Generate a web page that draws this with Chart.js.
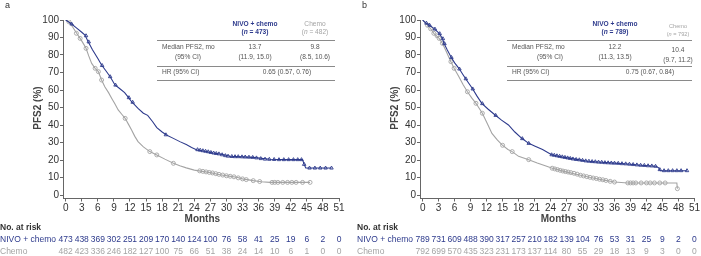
<!DOCTYPE html>
<html>
<head>
<meta charset="utf-8">
<script src="https://cdn.jsdelivr.net/npm/chart.js"></script>
<style>
  html, body { margin: 0; padding: 0; background: #fff; }
  body { width: 701px; height: 256px; position: relative; overflow: hidden; }
  canvas { position: absolute; top: 0; }
  #pa { left: 0; }
  #pb { left: 357px; }
</style>
</head>
<body>
<canvas id="pa" width="350" height="256"></canvas>
<canvas id="pb" width="344" height="256"></canvas>
<script>
// ---- data ----
const monthTicks = [0, 3, 6, 9, 12, 15, 18, 21, 24, 27, 30, 33, 36, 39, 42, 45, 48, 51]
const pctTicks = [0, 10, 20, 30, 40, 50, 60, 70, 80, 90, 100]

// panel a: KM curves (months, PFS2 %)
const aNivoT = [0, 0.5, 1.1, 2, 3, 3.6, 4.2, 5, 6, 6.7, 7.5, 8.3, 9.2, 10, 11, 11.7, 12.3, 13.5, 14.5, 15.3, 16.2, 17, 18, 18.8, 20, 21.3, 22.5, 23.5, 24.4, 26, 27.5, 28.8, 30.7, 33, 35, 38.1, 41, 44.2, 44.5, 44.8, 49.6]
const aNivoS = [100, 99, 97.7, 95.5, 93, 91.4, 87.6, 83, 78, 74.3, 71, 67.6, 62.9, 61, 58.5, 55.8, 53.3, 49.5, 46.7, 45.5, 42, 38.5, 36, 34.3, 32.5, 30.5, 28.8, 27.2, 25.9, 25, 24, 23.4, 22.1, 21.8, 21.5, 20.4, 20.2, 20.2, 17.5, 15.4, 15.4]
const aChemoT = [0, 0.6, 1.3, 2.05, 2.7, 3.3, 3.8, 4.3, 4.85, 5.5, 6.1, 6.7, 7.3, 8, 8.6, 9.2, 9.8, 10.5, 11.1, 11.7, 12.3, 12.9, 13.5, 14.5, 15.7, 17, 18.5, 20.1, 21.3, 22.5, 24, 25.5, 27, 28.8, 30.5, 31.9, 33, 35, 36.5, 38.1, 45.6]
const aChemoS = [100, 99, 96, 92.4, 89.5, 86.5, 83.8, 79.5, 75.2, 72.4, 70.5, 65.7, 61.9, 58.5, 55.2, 52, 48.6, 46, 43.8, 40.5, 37.1, 33.5, 30.5, 27.5, 24.8, 22.9, 20.5, 18.1, 16.7, 15.5, 14.2, 13.5, 12.8, 11.6, 10.8, 10.1, 9.2, 8.2, 7.6, 7.2, 7.2]

// panel a: censor marks
const aNivoCensT = [1.1, 3.8, 4.3, 6.8, 8.3, 9.3, 11.8, 12.5, 18.7, 24.6, 25.1, 25.6, 26.1, 26.6, 27.1, 27.6, 28.1, 28.6, 29.2, 29.8, 30.3, 31, 31.6, 32.2, 32.9, 33.5, 34.2, 34.9, 35.6, 36.4, 37.2, 38, 38.9, 39.8, 40.7, 41.6, 42.5, 43.3, 44, 44.5, 45.5, 46.5, 47.5, 48.5, 49.6]
const aNivoCensS = [97.7, 91, 87.5, 74, 67.6, 62.8, 55.6, 53, 34.4, 25.9, 25.6, 25.3, 25, 24.7, 24.3, 24, 23.7, 23.5, 23, 22.5, 22.2, 22, 21.9, 21.9, 21.8, 21.7, 21.6, 21.5, 21.2, 20.8, 20.5, 20.4, 20.3, 20.2, 20.2, 20.2, 20.2, 20.2, 20.2, 17.5, 15.4, 15.4, 15.4, 15.4, 15.4]
const aChemoCensT = [0.6, 2, 2.7, 3.8, 5.5, 6.1, 6.7, 11.1, 15.7, 17, 20.1, 25, 25.6, 26.2, 26.8, 27.4, 28, 28.6, 29.3, 30, 30.7, 31.4, 32.2, 33, 33.7, 35, 36.2, 38.5, 39, 39.6, 40.5, 41.4, 42.2, 43, 44.2, 45.6]
const aChemoCensS = [99, 92.4, 89.5, 83.8, 72.4, 70.5, 65.7, 43.8, 24.8, 22.9, 18.1, 13.8, 13.5, 13.2, 12.9, 12.6, 12.2, 11.8, 11.4, 11, 10.7, 10.4, 9.8, 9.2, 8.8, 8.2, 7.7, 7.2, 7.2, 7.2, 7.2, 7.2, 7.2, 7.2, 7.2, 7.2]

// panel b: KM curves
const bNivoT = [0, 0.5, 1.2, 2.1, 3.1, 3.7, 4, 4.6, 5.3, 6, 6.8, 8, 9.3, 10.2, 11.1, 12.3, 13.6, 14.8, 16.1, 17.3, 18.6, 19.9, 21, 22.5, 24.2, 26, 29.2, 31, 33.5, 36, 38.5, 41, 43.8, 44.3, 44.6, 49.6]
const bNivoS = [100, 98.5, 97.1, 95.2, 92.4, 89.5, 86.7, 83, 79, 75.5, 72.4, 66.7, 61, 56.5, 52.4, 49, 45.7, 42.8, 40, 36, 32.4, 29.5, 28, 26, 23, 21.8, 20.2, 19.3, 18.7, 18.2, 17.7, 17, 16.4, 15.5, 13.9, 13.9]
const bChemoT = [0, 0.9, 1.5, 2.1, 3.1, 3.7, 4.3, 5.3, 5.9, 6.8, 7.6, 8.4, 9.2, 10, 11.2, 12.1, 13, 14, 14.9, 16, 16.8, 18, 19.9, 21.5, 23, 24.2, 26.5, 29.2, 31.5, 33.5, 36, 38.5, 47.7, 47.8]
const bChemoS = [100, 97, 95, 92.4, 89.5, 86.7, 82.9, 76.2, 72.4, 67.6, 63, 59, 55.5, 52.4, 46.7, 41, 35.2, 31.5, 28.6, 26, 24.8, 22.1, 20.2, 18.3, 16.7, 15.4, 13.5, 11.6, 10, 8.8, 7.4, 6.9, 6.9, 3.6]

// panel b: censor marks
const bNivoCensT = [0.7, 1.3, 2.3, 3.2, 3.8, 4.1, 5.4, 6.9, 8.1, 9.4, 11.2, 13.7, 18.7, 19.9, 24.2, 24.7, 25.2, 25.7, 26.2, 26.7, 27.2, 27.7, 28.2, 28.8, 29.4, 30, 30.6, 31.2, 31.8, 32.4, 33, 33.6, 34.2, 34.8, 35.4, 36, 36.7, 37.4, 38.1, 38.8, 39.5, 40.2, 40.9, 41.6, 42.3, 43, 43.7, 44.5, 45.3, 46.1, 46.9, 47.7, 48.5, 49.6]
const bNivoCensS = [98.2, 97, 94.8, 92.2, 89.3, 86.5, 78.6, 72, 66.4, 60.6, 52.2, 45.5, 32.2, 29.5, 23, 22.7, 22.4, 22.1, 21.8, 21.5, 21.2, 20.9, 20.6, 20.3, 20.1, 19.8, 19.5, 19.3, 19.1, 19, 18.8, 18.7, 18.5, 18.4, 18.3, 18.2, 18.1, 17.9, 17.8, 17.6, 17.4, 17.2, 17, 16.9, 16.7, 16.6, 16.4, 14.5, 13.9, 13.9, 13.9, 13.9, 13.9, 13.9]
const bChemoCensT = [0.9, 1.5, 2.1, 2.7, 3.1, 3.7, 5.3, 5.9, 8.4, 10, 11.2, 15, 16.8, 19.9, 24.3, 24.8, 25.3, 25.8, 26.3, 26.8, 27.3, 27.8, 28.4, 29, 29.6, 30.2, 30.8, 31.4, 32, 32.6, 33.2, 33.8, 34.4, 35.2, 36, 38.5, 39, 39.5, 40, 41, 42, 42.7, 43.5, 44.5, 45.5, 47.8]
const bChemoCensS = [97, 95, 92.4, 91, 89.5, 86.7, 76.2, 72.4, 59, 52.4, 46.7, 28.4, 24.8, 20.2, 15.3, 14.9, 14.5, 14.1, 13.7, 13.4, 13.1, 12.8, 12.4, 11.9, 11.3, 10.9, 10.5, 10.1, 9.7, 9.4, 9, 8.7, 8.3, 7.8, 7.4, 6.9, 6.9, 6.9, 6.9, 6.9, 6.9, 6.9, 6.9, 6.9, 6.9, 3.6]

// numbers at risk, one per month tick
const aNivoRisk = [473, 438, 369, 302, 251, 209, 170, 140, 124, 100, 76, 58, 41, 25, 19, 6, 2, 0]
const aChemoRisk = [482, 423, 336, 246, 182, 127, 100, 75, 66, 51, 38, 24, 14, 10, 6, 1, 0, 0]
const bNivoRisk = [789, 731, 609, 488, 390, 317, 257, 210, 182, 139, 104, 76, 53, 31, 25, 9, 2, 0]
const bChemoRisk = [792, 699, 570, 435, 323, 231, 173, 137, 114, 80, 55, 29, 18, 13, 9, 3, 0, 0]

// ---- styling ----
const NAVY = '#2d3a8c'
const GREY = '#a4a4a4'
const FONT = '"Liberation Sans", Arial, sans-serif'

const pts = (t, s) => t.map((v, i) => ({ x: v, y: s[i] }))

function font (size, bold, italic) {
  return (italic ? 'italic ' : '') + (bold ? 'bold ' : '') + size + 'px ' + FONT
}

// draws "(n = 473)" with italic n, centred on x
function drawN (ctx, x, y, count, size, bold, color) {
  const a = '(', b = 'n', c = ' = ' + count + ')'
  ctx.font = font(size, bold)
  const wa = ctx.measureText(a).width
  const wc = ctx.measureText(c).width
  ctx.font = font(size, bold, true)
  const wb = ctx.measureText(b).width
  const left = x - (wa + wb + wc) / 2
  ctx.fillStyle = color
  ctx.textAlign = 'left'
  ctx.font = font(size, bold)
  ctx.fillText(a, left, y)
  ctx.font = font(size, bold, true)
  ctx.fillText(b, left + wa, y)
  ctx.font = font(size, bold)
  ctx.fillText(c, left + wa + wb, y)
}

function annotations (p) {
  return {
    id: 'annotations',
    afterDraw (chart) {
      const ctx = chart.ctx
      const xs = chart.scales.x
      ctx.save()
      ctx.textBaseline = 'middle'

      // panel letter
      ctx.fillStyle = '#333'
      ctx.font = font(9)
      ctx.textAlign = 'left'
      ctx.fillText(p.letter, 5, 6)

      // y title
      ctx.save()
      ctx.translate(38, 108)
      ctx.rotate(-Math.PI / 2)
      ctx.textAlign = 'center'
      ctx.font = font(10, true)
      ctx.fillStyle = '#444'
      ctx.fillText('PFS2 (%)', 0, 0)
      ctx.restore()

      // x title
      ctx.textAlign = 'center'
      ctx.font = font(10, true)
      ctx.fillStyle = '#444'
      ctx.fillText('Months', (xs.getPixelForValue(0) + xs.getPixelForValue(51)) / 2, 219)

      // numbers at risk
      ctx.textAlign = 'left'
      ctx.font = font(8.5, true)
      ctx.fillStyle = '#333'
      ctx.fillText('No. at risk', 0, 228)
      ctx.font = font(8.5)
      ctx.fillStyle = NAVY
      ctx.fillText('NIVO + chemo', 0, 239.5)
      ctx.fillStyle = GREY
      ctx.fillText('Chemo', 0, 251.5)
      ctx.textAlign = 'center'
      monthTicks.forEach((m, i) => {
        const x = xs.getPixelForValue(m)
        ctx.fillStyle = NAVY
        ctx.fillText(String(p.nivoRisk[i]), x, 239.5)
        ctx.fillStyle = GREY
        ctx.fillText(String(p.chemoRisk[i]), x, 251.5)
      })

      // inset table
      const t = p.table
      ctx.strokeStyle = '#8a8a8a'
      ctx.lineWidth = 1
      ;[40.5, 66.5, 80.5].forEach(y => {
        ctx.beginPath()
        ctx.moveTo(t.x0, y)
        ctx.lineTo(t.x1, y)
        ctx.stroke()
      })
      ctx.textAlign = 'center'
      ctx.font = font(6.6, true)
      ctx.fillStyle = NAVY
      ctx.fillText('NIVO + chemo', t.c1, 24.5)
      drawN(ctx, t.c1, 32.5, p.nivoN, 6.6, true, NAVY)
      ctx.textAlign = 'center'
      ctx.font = font(t.chemoSize)
      ctx.fillStyle = GREY
      ctx.fillText('Chemo', t.c2, t.chemoY)
      drawN(ctx, t.c2, t.chemoY + 8, p.chemoN, t.chemoSize, false, GREY)

      ctx.fillStyle = '#555'
      ctx.font = font(6.6)
      ctx.textAlign = 'left'
      ctx.fillText('Median PFS2, mo', t.x0 + 5, 47)
      ctx.fillText('HR (95% CI)', t.x0 + 5, 72)
      ctx.textAlign = 'center'
      ctx.fillText('(95% CI)', t.ci, 57.5)
      ctx.fillText(p.nivoMed, t.c1, 47)
      ctx.fillText(p.nivoCI, t.c1, 57.5)
      ctx.fillText(p.chemoMed, t.c2, t.medY)
      ctx.fillText(p.chemoCI, t.c2, t.medY + 10.5)
      ctx.fillText(p.hr, t.hr, 72)
      ctx.restore()
    }
  }
}

function panel (id, p) {
  new Chart(document.getElementById(id), {
    type: 'line',
    data: {
      datasets: [
        {
          data: pts(p.nivoT, p.nivoS),
          borderColor: NAVY,
          borderWidth: 1.1,
          pointRadius: 0,
          order: 2
        },
        {
          data: pts(p.chemoT, p.chemoS),
          borderColor: GREY,
          borderWidth: 1.1,
          pointRadius: 0,
          order: 4
        },
        {
          data: pts(p.nivoCensT, p.nivoCensS),
          showLine: false,
          pointStyle: 'triangle',
          pointRadius: 2,
          pointBorderWidth: 0.9,
          pointBorderColor: NAVY,
          pointBackgroundColor: 'rgba(255,255,255,0)',
          order: 1
        },
        {
          data: pts(p.chemoCensT, p.chemoCensS),
          showLine: false,
          pointStyle: 'circle',
          pointRadius: 2,
          pointBorderWidth: 0.9,
          pointBorderColor: GREY,
          pointBackgroundColor: 'rgba(255,255,255,0)',
          order: 3
        }
      ]
    },
    options: {
      responsive: false,
      animation: false,
      events: [],
      layout: { padding: { left: 0, right: p.padRight, top: 20, bottom: 32.5 } },
      plugins: { legend: { display: false }, tooltip: { enabled: false } },
      scales: {
        x: {
          type: 'linear',
          min: -0.5,
          max: 51,
          afterBuildTicks: s => { s.ticks = monthTicks.map(v => ({ value: v })) },
          afterFit: s => { s.height = 25 },
          border: { color: '#666', width: 1 },
          grid: { drawOnChartArea: false, tickLength: 3, color: '#666' },
          ticks: { autoSkip: false, maxRotation: 0, padding: 1, color: '#333', font: { family: FONT, size: 10 } }
        },
        y: {
          min: -2,
          max: 100,
          afterBuildTicks: s => { s.ticks = pctTicks.map(v => ({ value: v })) },
          afterFit: s => { s.width = 63 },
          border: { color: '#666', width: 1 },
          grid: { drawOnChartArea: false, tickLength: 3, color: '#666' },
          ticks: { padding: 1, color: '#333', font: { family: FONT, size: 10 } }
        }
      }
    },
    plugins: [annotations(p)]
  })
}

panel('pa', {
  letter: 'a',
  padRight: 11,
  nivoT: aNivoT, nivoS: aNivoS, chemoT: aChemoT, chemoS: aChemoS,
  nivoCensT: aNivoCensT, nivoCensS: aNivoCensS, chemoCensT: aChemoCensT, chemoCensS: aChemoCensS,
  nivoRisk: aNivoRisk, chemoRisk: aChemoRisk,
  nivoN: 473, chemoN: 482,
  nivoMed: '13.7', nivoCI: '(11.9, 15.0)', chemoMed: '9.8', chemoCI: '(8.5, 10.6)',
  hr: '0.65 (0.57, 0.76)',
  table: { x0: 157, x1: 335, c1: 255, c2: 315, ci: 188, hr: 287, chemoSize: 6.6, chemoY: 24.5, medY: 47 }
})

panel('pb', {
  letter: 'b',
  padRight: 5,
  nivoT: bNivoT, nivoS: bNivoS, chemoT: bChemoT, chemoS: bChemoS,
  nivoCensT: bNivoCensT, nivoCensS: bNivoCensS, chemoCensT: bChemoCensT, chemoCensS: bChemoCensS,
  nivoRisk: bNivoRisk, chemoRisk: bChemoRisk,
  nivoN: 789, chemoN: 792,
  nivoMed: '12.2', nivoCI: '(11.3, 13.5)', chemoMed: '10.4', chemoCI: '(9.7, 11.2)',
  hr: '0.75 (0.67, 0.84)',
  table: { x0: 150, x1: 335, c1: 258, c2: 321, ci: 193, hr: 293, chemoSize: 5.6, chemoY: 26, medY: 50 }
})
</script>
</body>
</html>
